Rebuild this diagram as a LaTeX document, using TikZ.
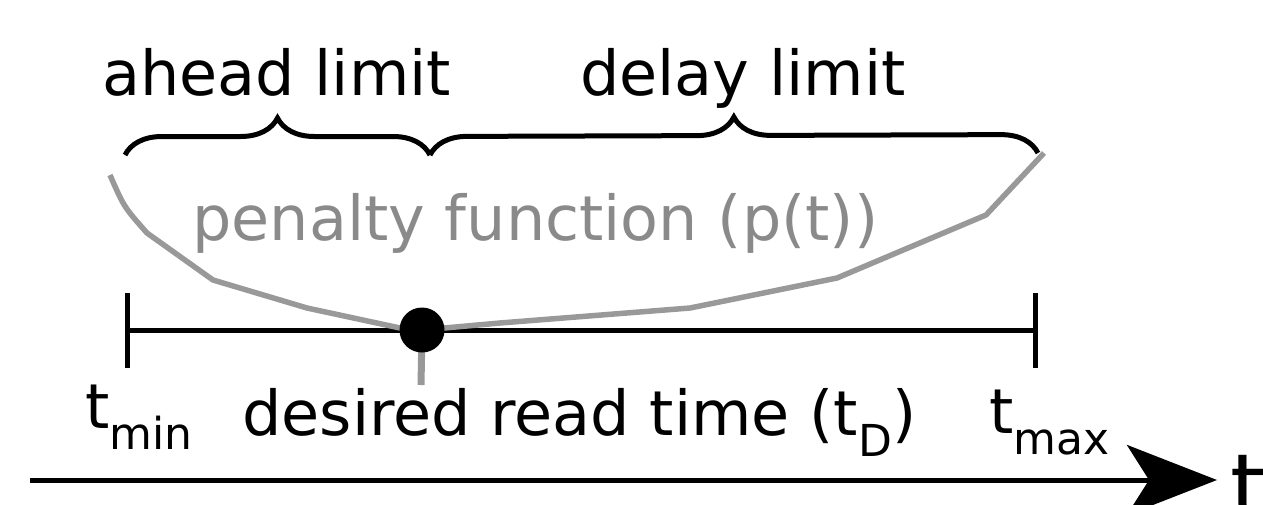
\documentclass[tikz,border=0pt]{standalone}
\usepackage{fontspec}
\setmainfont{DejaVu Sans}
\usetikzlibrary{arrows.meta, decorations.pathreplacing, positioning}
\definecolor{curveGrey}{HTML}{999999}
\definecolor{textGrey}{HTML}{8A8A8A}
\newcommand{\LowSub}[1]{\raisebox{-21pt}{\fontsize{44}{50}\selectfont #1}}
\tikzset{
    % Timeline
    timeBar/.style={draw=black, line width=5pt},
    tickMark/.style={draw=black, line width=5pt},
    readDot/.style={circle, fill=black, minimum size=45pt, inner sep=0pt},
    stemLine/.style={draw=curveGrey, line width=7pt},
    % Penalty and limits
    penaltyCurve/.style={draw=curveGrey, line width=5.5pt, line join=round},
    limitBrace/.style={draw=black, line width=5pt, decorate, decoration={brace, amplitude=37pt}},
    axisArrow/.style={-{Stealth[length=90pt, width=70pt, inset=22pt]}, line width=5pt},
    % Labels
    bigText/.style={font=\fontsize{62}{74}\selectfont, inner sep=0pt, anchor=base west},
    greyText/.style={bigText, text=textGrey}
}

\begin{document}
\begin{tikzpicture}[x=1pt, y=-1pt]
    \useasboundingbox (0,0) rectangle (1263,504);

    % Timeline with ticks
    \coordinate (tMin) at (127,330);
    \coordinate (tMax) at (1035,330);
    \coordinate (tD) at (422,330);
    \draw[timeBar] (tMin) -- (tMax);
    \draw[tickMark] (127,293) -- (127,368);
    \draw[tickMark] (1035,293) -- (1035,368);

    % Penalty function
    \draw[penaltyCurve] (110,175) .. controls (124,207) .. (147,233) -- (213,280) -- (307,308)
        -- (400,328) -- (tD) -- (500,323) -- (690,308) -- (837,278) -- (986,215) -- (1044,153);
    \node[greyText] (penaltyLbl) at (192,240) {penalty function (p(t))};

    % Desired read time
    \coordinate (stemEnd) at (421,385);
    \draw[stemLine] (tD) -- (stemEnd);
    \node[readDot] (dot) at (tD) {};

    % Limits
    \draw[limitBrace] (125,155) -- (430,155);
    \draw[limitBrace] (430,155) -- (1038,153);
    \node[bigText] (aheadLbl) at (102,95) {ahead limit};
    \node[bigText] (delayLbl) at (580,95) {delay limit};

    % Labels under the timeline
    \node[bigText] (tMinLbl) at (85,428) {t\LowSub{min}};
    \node[bigText] (desiredLbl) at (242,435) {desired read time (t\LowSub{D})};
    \node[bigText] (tMaxLbl) at (989,433) {t\LowSub{max}};

    % Time axis
    \coordinate (axisStart) at (30,480);
    \coordinate (axisEnd) at (1217,480);
    \draw[axisArrow] (axisStart) -- (axisEnd);
    \node[bigText, font=\fontsize{90}{100}\selectfont] (tAxisLbl) at (1230,518) {t};
\end{tikzpicture}
\end{document}
